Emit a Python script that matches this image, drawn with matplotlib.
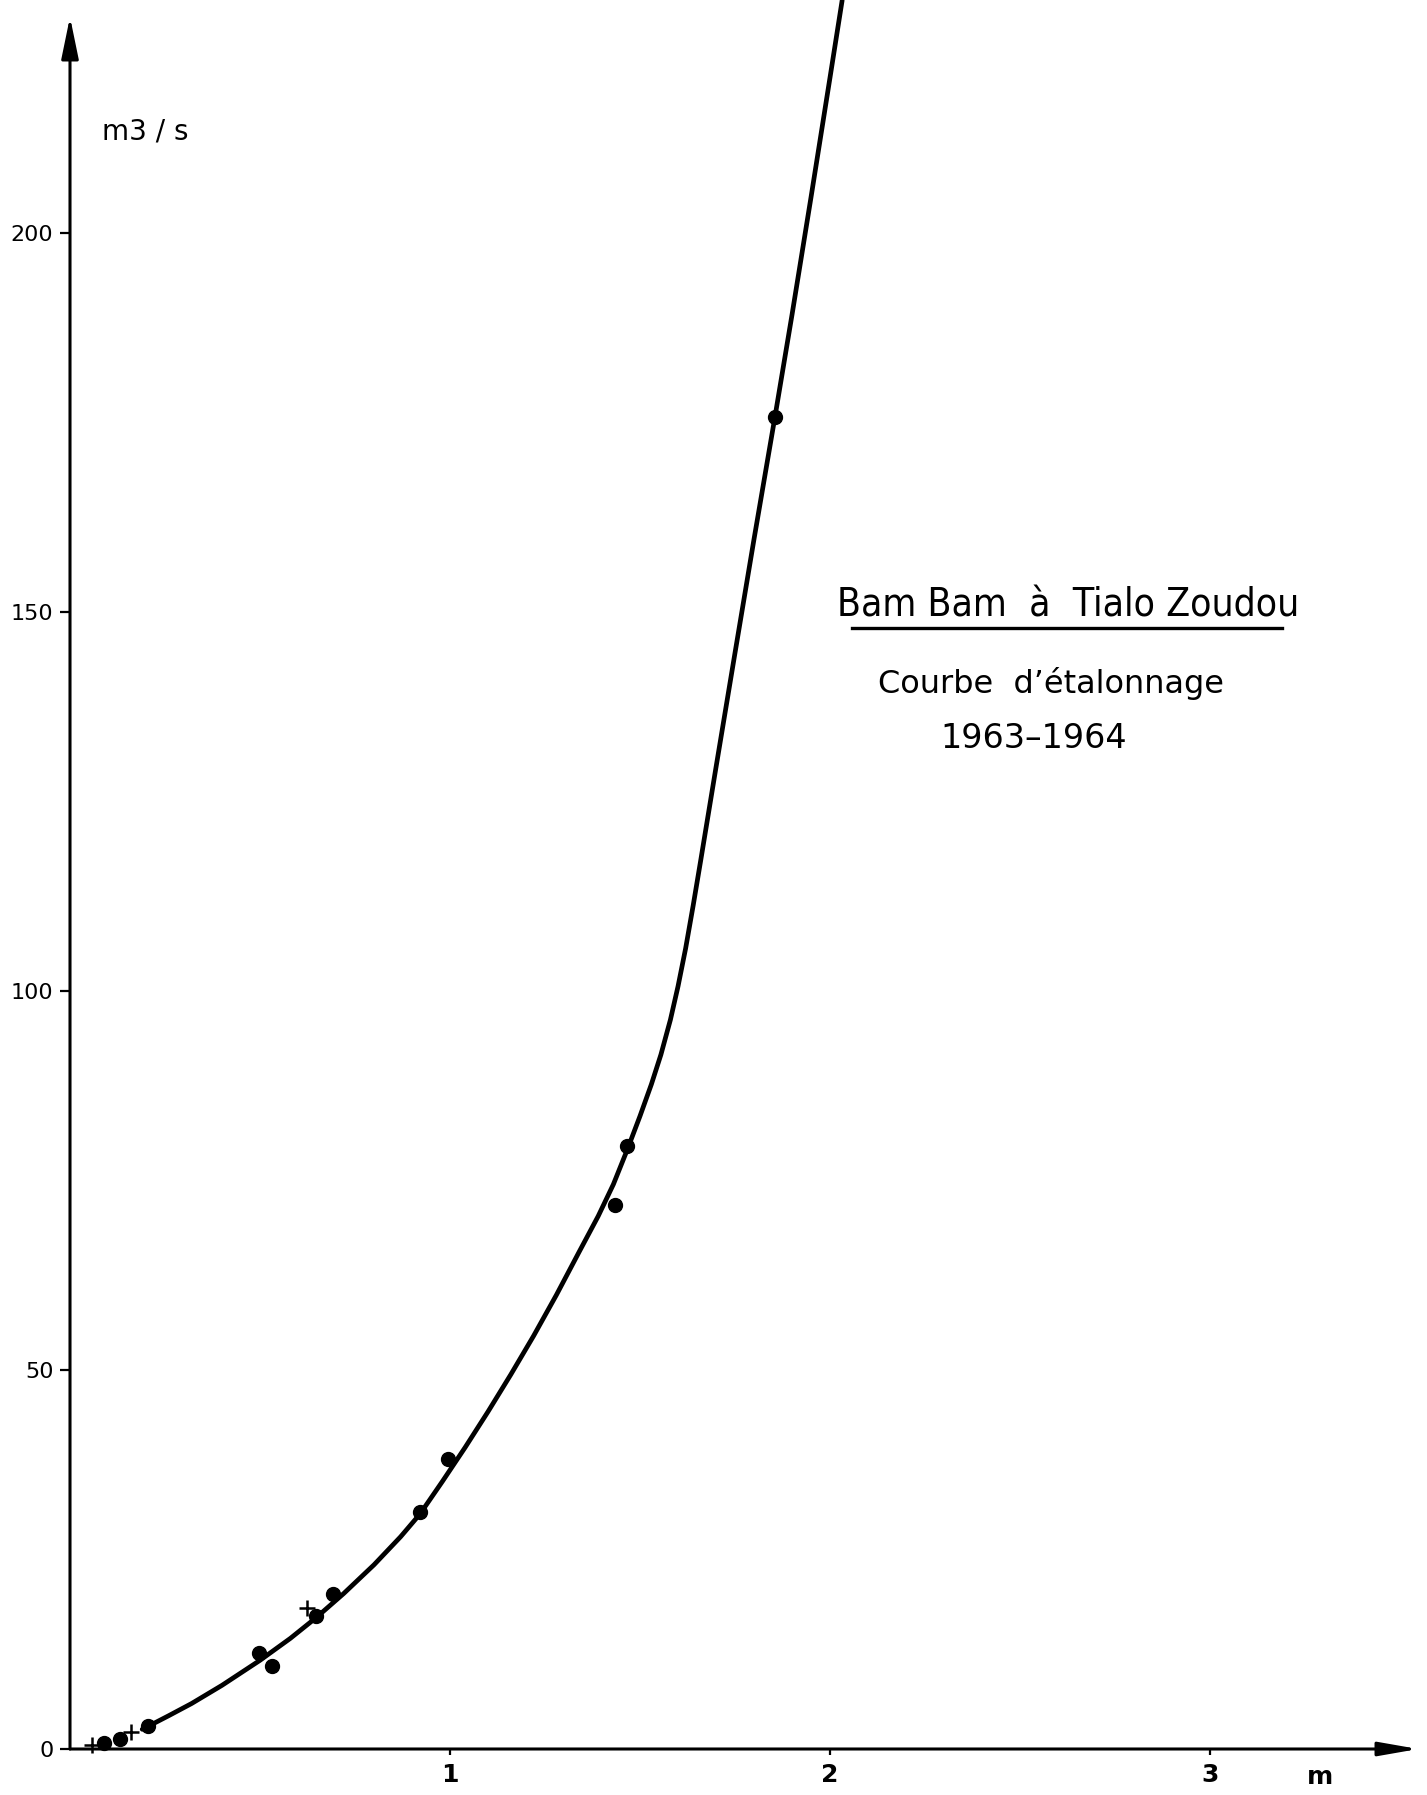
import matplotlib
matplotlib.use("Agg")
import matplotlib.pyplot as plt
from matplotlib.lines import Line2D

# jaugeages (hauteur m, debit m3/s)
pts_x = [0.090, 0.132, 0.206, 0.498, 0.532, 0.647, 0.691, 0.921, 0.996, 1.434, 1.465, 1.855]
pts_y = [0.8, 1.3, 3.0, 12.6, 11.0, 17.5, 20.5, 31.3, 38.2, 71.8, 79.5, 175.7]
plus_x = [0.059, 0.161, 0.623]
plus_y = [0.5, 2.2, 18.6]

curve_x = [0.19, 0.206, 0.26, 0.32, 0.40, 0.50, 0.58, 0.647, 0.72, 0.80,
           0.87, 0.921, 0.98, 1.04, 1.10, 1.16, 1.22, 1.28, 1.34, 1.39,
           1.43, 1.466, 1.50, 1.53, 1.555, 1.58, 1.60, 1.62, 1.64, 1.66,
           1.70, 1.75, 1.80, 1.855, 1.90, 1.95, 2.00, 2.032]
curve_y = [2.6, 3.0, 4.4, 6.0, 8.4, 11.7, 14.6, 17.3, 20.5, 24.3,
           28.0, 31.0, 35.3, 39.8, 44.5, 49.4, 54.5, 59.9, 65.6, 70.3,
           74.5, 79.0, 83.5, 87.7, 91.6, 96.2, 100.6, 105.6, 111.3, 117.3,
           129.5, 144.6, 159.6, 175.7, 189.2, 204.7, 220.5, 230.7]

y_ticks = [0, 50, 100, 150, 200]
x_ticks = [1, 2, 3]

W, H = 1427, 1795


def fx(px):
    return px / W


def fy(py):
    return 1 - py / H


fig = plt.figure(figsize=(W / 100, H / 100), dpi=100)
ax = fig.add_axes([fx(70), fy(1749), (1419 - 70) / W, 1749 / H])
ax.set_xlim(0, 1349 / 380)
ax.set_ylim(0, 1749 / 7.58)
for s in ax.spines.values():
    s.set_visible(False)

# axes with arrows
ax.annotate('', xy=(3.548, 0), xytext=(0, 0), annotation_clip=False,
            arrowprops=dict(arrowstyle='-|>,head_length=1.6,head_width=0.28',
                            mutation_scale=15, lw=2.2, color='k', shrinkA=0, shrinkB=0))
ax.annotate('', xy=(0, 228.5), xytext=(0, 0), annotation_clip=False,
            arrowprops=dict(arrowstyle='-|>,head_length=1.7,head_width=0.35',
                            mutation_scale=15, lw=2.2, color='k', shrinkA=0, shrinkB=0))

ax.set_yticks(y_ticks)
ax.set_yticklabels([str(v) for v in y_ticks], fontsize=16)
ax.set_xticks(x_ticks)
ax.set_xticklabels([str(v) for v in x_ticks], fontsize=18, fontweight='bold')
ax.tick_params(axis='y', direction='out', length=7, width=1.6, pad=5)
ax.tick_params(axis='x', direction='out', length=4, width=1.6, pad=6)

ax.plot(curve_x, curve_y, color='k', lw=3.4, solid_capstyle='round',
        solid_joinstyle='round', clip_on=False)
ax.plot(pts_x, pts_y, 'o', color='k', ms=10, clip_on=False)
ax.plot(plus_x, plus_y, '+', color='k', ms=11, mew=1.8, clip_on=False)

fig.text(fx(102), fy(131), 'm3 / s', fontsize=20, va='center', ha='left')
fig.text(fx(1320), fy(1777), 'm', fontsize=18, fontweight='bold', va='center', ha='center')

fig.text(fx(1068), fy(606), 'Bam Bam  à  Tialo Zoudou', fontsize=28,
         fontstretch='condensed', fontweight='medium', va='center', ha='center')
fig.add_artist(Line2D([fx(852), fx(1282)], [fy(628), fy(628)], color='k', lw=2.4))
fig.text(fx(1051), fy(683), 'Courbe  d\u2019étalonnage', fontsize=23,
         va='center', ha='center')
fig.text(fx(1034), fy(738), '1963\u20131964', fontsize=24,
         va='center', ha='center')

fig.savefig('out.png', dpi=100)
